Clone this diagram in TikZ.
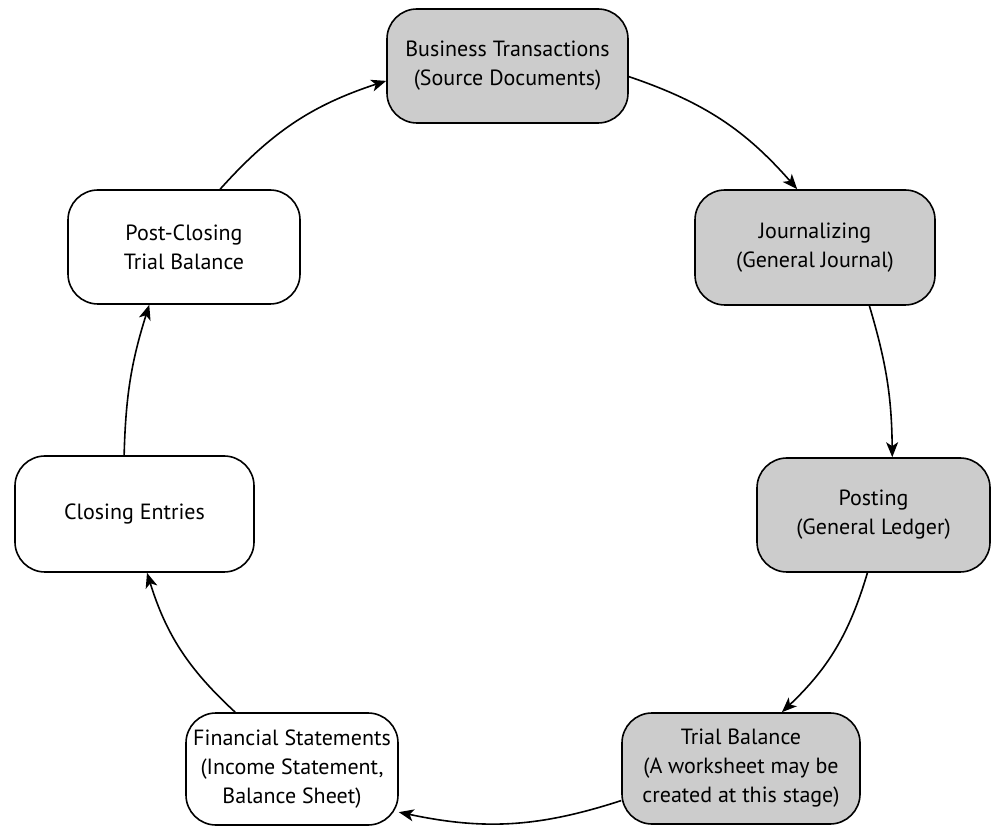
\documentclass[tikz,border=0pt]{standalone}
\usepackage{fontspec}
\setmainfont{PT Sans}
\usetikzlibrary{arrows.meta}

\begin{document}
\begin{tikzpicture}[x=1pt,y=1pt,
    stage/.style={draw,line width=1.6pt,rounded corners=30pt,align=center,
      font=\fontsize{22}{29}\selectfont,inner sep=0pt},
    gbox/.style={stage,fill=black!20},
    wbox/.style={stage,fill=white},
    flow/.style={line width=1.6pt,-{Stealth[length=15pt,width=12pt,inset=4pt]},bend left=15}]
  \useasboundingbox (0,0) rectangle (992,827);
  \node (biz) at (507.5,761) [gbox,minimum width=241pt,minimum height=114pt] {Business Transactions\\(Source Documents)};
  \node (jour) at (815,579.5) [gbox,minimum width=240pt,minimum height=115pt] {Journalizing\\(General Journal)};
  \node (post) at (873.5,312) [gbox,minimum width=233pt,minimum height=114pt] {Posting\\(General Ledger)};
  \node (trial) at (741,58.5) [gbox,minimum width=238pt,minimum height=111pt] {Trial Balance\\(A worksheet may be\\created at this stage)};
  \node (fin) at (292,58) [wbox,minimum width=212pt,minimum height=112pt] {Financial Statements\\(Income Statement,\\Balance Sheet)};
  \node (clos) at (134.5,313) [wbox,minimum width=239pt,minimum height=116pt] {Closing Entries};
  \node (pcl) at (184,580) [wbox,minimum width=232pt,minimum height=114pt] {Post-Closing\\Trial Balance};
  \draw[flow] (biz.-5) to (jour.107);
  \draw[flow,bend left=8] (jour.-47) to (post.72);
  \draw[flow] (post.-96) to (trial.54);
  \draw[flow] (trial.195) to (fin.-22);
  \draw[flow] (fin.135) to (clos.-78);
  \draw[flow,bend left=8] (clos.100) to (pcl.-121);
  \draw[flow] (pcl.58) to (biz.187);
\end{tikzpicture}
\end{document}
